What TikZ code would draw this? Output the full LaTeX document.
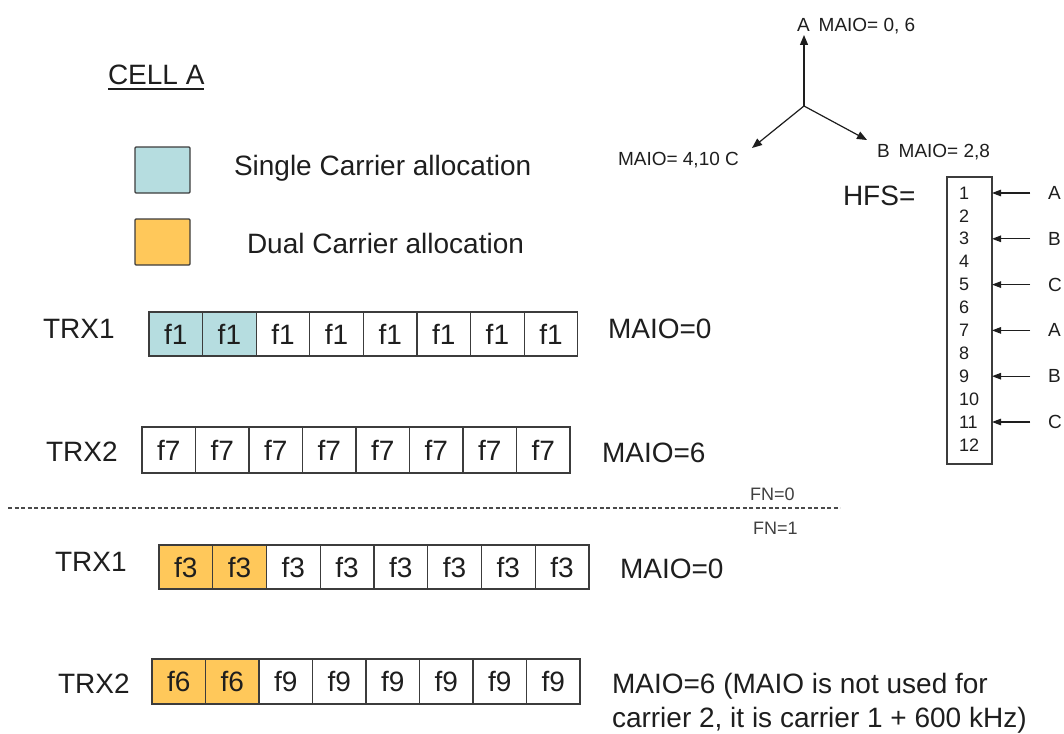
\documentclass[tikz,border=0pt]{standalone}
\usepackage{fontspec}
\setmainfont{Liberation Sans}
\usetikzlibrary{arrows.meta}
\definecolor{singlec}{HTML}{B6DDE0}
\definecolor{dualc}{HTML}{FFC85A}
\definecolor{ink}{HTML}{1E1E1E}
\definecolor{edge}{HTML}{3C3C3C}
\definecolor{dashc}{HTML}{4A4A4A}
\tikzset{
  arr/.style={-{Triangle[length=10pt,width=8pt]}, line width=1.2pt, draw=ink, fill=ink},
  harr/.style={-{Triangle[length=9pt,width=6.5pt]}, line width=1.1pt, draw=ink, fill=ink},
}
\begin{document}
\begin{tikzpicture}[x=1pt,y=-1pt,
  big/.style={font=\fontsize{28}{34}\selectfont, inner sep=0pt, outer sep=0pt, text=ink},
  small/.style={font=\fontsize{19}{22}\selectfont, inner sep=0pt, outer sep=0pt, text=ink},
  tiny/.style={font=\fontsize{18}{22}\selectfont, inner sep=0pt, outer sep=0pt, text=ink},
  cellbox/.style={draw=edge, line width=1.3pt, inner sep=0pt, outer sep=0pt, font=\fontsize{28}{34}\selectfont, text=ink, anchor=north west},
  legbox/.style={draw=edge, line width=1.3pt, rounded corners=1pt, inner sep=0pt, outer sep=0pt, minimum width=55pt, minimum height=46pt, anchor=north west},
]
\useasboundingbox (0,0) rectangle (1064,733);

% title and legend
\node[big, anchor=base west] (cella) at (108,85) {CELL A};
\draw[ink, line width=1.2pt] ([yshift=-4pt]cella.base west) -- ([yshift=-4pt]cella.base east);
\node[legbox, fill=singlec] (legS) at (135,147) {};
\node[legbox, fill=dualc] (legD) at (135,219) {};
\node[big, anchor=base west] (legStext) at (234,175) {Single Carrier allocation};
\node[big, anchor=base west] (legDtext) at (247,253) {Dual Carrier allocation};

% FN = 0 rows
\node[big, anchor=base west] (t1a) at (43,338) {TRX1};
\foreach \i in {1,...,8} {
  \ifnum\i<3 \def\fc{singlec}\else\def\fc{white}\fi
  \node[cellbox, fill=\fc, minimum width=53.6pt, minimum height=44pt] (a\i) at ({149+(\i-1)*53.6},312) {f1};
}
\node[big, anchor=base west] (m1a) at (608,338) {MAIO=0};

\node[big, anchor=base west] (t2a) at (46,461) {TRX2};
\foreach \i in {1,...,8} {
  \node[cellbox, fill=white, minimum width=53.5pt, minimum height=46pt] (b\i) at ({142+(\i-1)*53.5},427) {f7};
}
\node[big, anchor=base west] (m2a) at (602,462) {MAIO=6};

% separator
\coordinate (dl) at (8,508);
\coordinate (dr) at (840,508);
\draw[dashc, line width=1.2pt, dash pattern=on 4pt off 2.5pt] (dl) -- (dr);
\node[tiny, anchor=base west, text=ink!85] (fn0) at (750,500) {FN=0};
\node[tiny, anchor=base west, text=ink!85] (fn1) at (753,534) {FN=1};

% FN = 1 rows
\node[big, anchor=base west] (t1b) at (55,571) {TRX1};
\foreach \i in {1,...,8} {
  \ifnum\i<3 \def\fc{dualc}\else\def\fc{white}\fi
  \node[cellbox, fill=\fc, minimum width=53.75pt, minimum height=44pt] (c\i) at ({159+(\i-1)*53.75},545) {f3};
}
\node[big, anchor=base west] (m1b) at (620,578) {MAIO=0};

\node[big, anchor=base west] (t2b) at (58,693) {TRX2};
\foreach \i in {1,...,8} {
  \ifnum\i<3 \def\fc{dualc}\def\ft{f6}\else\def\fc{white}\def\ft{f9}\fi
  \node[cellbox, fill=\fc, minimum width=53.5pt, minimum height=45pt] (d\i) at ({152+(\i-1)*53.5},659) {\ft};
}
\node[big, anchor=base west] (m2b) at (612,693) {MAIO=6 (MAIO is not used for};
\node[big, anchor=base west] (m2c) at (612,727) {carrier 2, it is carrier 1 + 600 kHz)};

% sector axes
\coordinate (o) at (804,106);
\coordinate (tA) at (804,35);
\coordinate (tB) at (867,140);
\coordinate (tC) at (752,148);
\draw[arr] (o) -- (tA);
\draw[arr] (o) -- (tB);
\draw[arr] (o) -- (tC);
\node[small, anchor=base west] (labA) at (797,32) {A\hspace{9pt}MAIO= 0, 6};
\node[small, anchor=base west] (labB) at (877,157) {B\hspace{9pt}MAIO= 2,8};
\node[small, anchor=base west] (labC) at (618,165) {MAIO= 4,10 C};

% HFS
\node[big, anchor=base west] (hfslab) at (843,205) {HFS=};
\node[draw=edge, line width=1.3pt, minimum width=45pt, minimum height=287pt, anchor=north west, inner sep=0pt, outer sep=0pt] (hfs) at (947,177) {};
\foreach \n in {1,...,12} {
  \node[tiny, anchor=west] (n\n) at (959,{193+(\n-1)*22.9}) {\n};
}
\foreach \n/\l in {1/A,3/B,5/C,7/A,9/B,11/C} {
  \node[small, anchor=west] (h\n) at (1048,{193+(\n-1)*22.9}) {\l};
  \draw[harr, shorten <=18pt] (h\n.west) -- (hfs.east |- n\n);
}
\end{tikzpicture}
\end{document}
